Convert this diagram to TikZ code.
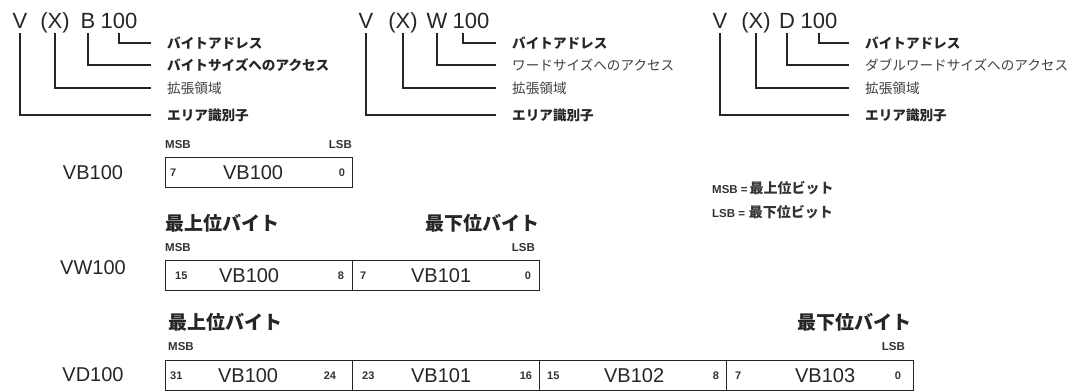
\documentclass[tikz,border=0pt]{standalone}
\usepackage{fontspec}
\setmainfont{Liberation Sans}
\newfontfamily\jp{Noto Sans CJK JP}
\begin{document}
\begin{tikzpicture}[x=1pt,y=-1pt,
  lead/.style={draw=black!85, line width=1.3pt, shorten <=5pt, shorten >=16pt},
  big/.style={font=\fontsize{22}{22}\selectfont, inner sep=0pt, anchor=base, text height=16pt, text depth=0pt, text=black!85},
  lbl/.style={font=\jp\bfseries\fontsize{13.6}{13.6}\selectfont, inner sep=0pt, anchor=west, text=black!85},
  lbll/.style={font=\jp\fontsize{13.6}{13.6}\selectfont, inner sep=0pt, anchor=west, text=black!75},
  rowlbl/.style={font=\fontsize{20}{20}\selectfont, inner sep=0pt, text=black!85},
  cell/.style={draw=black!85, line width=1.2pt, minimum width=187pt, minimum height=30pt, inner sep=0pt, anchor=north west},
  num/.style={font=\bfseries\fontsize{11}{11}\selectfont, inner sep=0pt, text=black!80},
  nm/.style={font=\fontsize{20}{20}\selectfont, inner sep=0pt, text=black!85},
  sb/.style={font=\bfseries\fontsize{11.5}{11.5}\selectfont, inner sep=0pt, text=black!80},
  hd/.style={font=\jp\bfseries\fontsize{19}{19}\selectfont, inner sep=0pt, text=black!85},
]
\fill[white] (0,0) rectangle (1073,391);
\useasboundingbox (0,0) rectangle (1073,391);

% ---- section 1
\node[big] (v1) at (20,28) {V};
\node[big] (x1) at (55,28) {(X)};
\node[big] (s1) at (88,28) {B};
\node[big] (n1) at (119,28) {100};
\node[lbl] (a1) at (167,43) {バイトアドレス};
\node[lbl] (a2) at (167,65) {バイトサイズへのアクセス};
\node[lbll] (a3) at (167,88) {拡張領域};
\node[lbl] (a4) at (167,115) {エリア識別子};
\draw[lead] (v1.south) |- (a4.west);
\draw[lead] (x1.south) |- (a3.west);
\draw[lead] (s1.south) |- (a2.west);
\draw[lead] (n1.south) |- (a1.west);

% ---- section 2
\node[big] (v2) at (366,28) {V};
\node[big] (x2) at (403,28) {(X)};
\node[big] (s2) at (437,28) {W};
\node[big] (n2) at (471,28) {100};
\node[lbl] (b1) at (512,43) {バイトアドレス};
\node[lbll] (b2) at (512,65) {ワードサイズへのアクセス};
\node[lbll] (b3) at (512,88) {拡張領域};
\node[lbl] (b4) at (512,115) {エリア識別子};
\draw[lead] (v2.south) |- (b4.west);
\draw[lead] (x2.south) |- (b3.west);
\draw[lead] (s2.south) |- (b2.west);
\draw[lead] ([xshift=-8pt]n2.south) |- (b1.west);

% ---- section 3
\node[big] (v3) at (720,28) {V};
\node[big] (x3) at (756,28) {(X)};
\node[big] (s3) at (787,28) {D};
\node[big] (n3) at (819,28) {100};
\node[lbl] (c1) at (865,43) {バイトアドレス};
\node[lbll] (c2) at (865,65) {ダブルワードサイズへのアクセス};
\node[lbll] (c3) at (865,88) {拡張領域};
\node[lbl] (c4) at (865,115) {エリア識別子};
\draw[lead] (v3.south) |- (c4.west);
\draw[lead] (x3.south) |- (c3.west);
\draw[lead] (s3.south) |- (c2.west);
\draw[lead] (n3.south) |- (c1.west);

% ---- legend
\node[inner sep=0pt, anchor=west, text=black!80] (lg1) at (712,188) {{\bfseries\fontsize{11.5}{11.5}\selectfont MSB =\,}{\jp\bfseries\fontsize{14}{14}\selectfont 最上位ビット}};
\node[inner sep=0pt, anchor=west, text=black!80] (lg2) at (712,212) {{\bfseries\fontsize{11.5}{11.5}\selectfont LSB =\,\,}{\jp\bfseries\fontsize{14}{14}\selectfont 最下位ビット}};

% ---- VB100 row
\node[rowlbl] (rb) at (93,173) {VB100};
\node[sb, anchor=west] (bm) at (165,145) {MSB};
\node[sb, anchor=east] (bl) at (352,145) {LSB};
\node[cell] (b0) at (165,157) {};
\node[num, anchor=west] (b0l) at ([xshift=5pt]b0.west) {7};
\node[nm] (b0n) at ([xshift=-6pt]b0.center) {VB100};
\node[num, anchor=east] (b0r) at ([xshift=-8pt]b0.east) {0};

% ---- VW100 row
\node[rowlbl] (rw) at (93,268) {VW100};
\node[hd, anchor=west] (wh1) at (165,223) {最上位バイト};
\node[hd, anchor=east] (wh2) at (540,223) {最下位バイト};
\node[sb, anchor=west] (wm) at (165,248) {MSB};
\node[sb, anchor=east] (wl) at (535,248) {LSB};
\node[cell] (w0) at (165,260) {};
\node[cell] (w1) at (352,260) {};
\node[num, anchor=west] (w0l) at ([xshift=10pt]w0.west) {15};
\node[nm] (w0n) at ([xshift=-10pt]w0.center) {VB100};
\node[num, anchor=east] (w0r) at ([xshift=-9pt]w0.east) {8};
\node[num, anchor=west] (w1l) at ([xshift=8pt]w1.west) {7};
\node[nm] (w1n) at ([xshift=-5pt]w1.center) {VB101};
\node[num, anchor=east] (w1r) at ([xshift=-9pt]w1.east) {0};

% ---- VD100 row
\node[rowlbl] (rd) at (93,375) {VD100};
\node[hd, anchor=west] (dh1) at (168,322) {最上位バイト};
\node[hd, anchor=east] (dh2) at (912,322) {最下位バイト};
\node[sb, anchor=west] (dm) at (168,347) {MSB};
\node[sb, anchor=east] (dl) at (905,347) {LSB};
\node[cell] (d0) at (165,360) {};
\node[cell] (d1) at (352,360) {};
\node[cell] (d2) at (539,360) {};
\node[cell] (d3) at (726,360) {};
\node[num, anchor=west] (d0l) at ([xshift=5pt]d0.west) {31};
\node[nm] (d0n) at ([xshift=-11pt]d0.center) {VB100};
\node[num, anchor=east] (d0r) at ([xshift=-17pt]d0.east) {24};
\node[num, anchor=west] (d1l) at ([xshift=10pt]d1.west) {23};
\node[nm] (d1n) at ([xshift=-5pt]d1.center) {VB101};
\node[num, anchor=east] (d1r) at ([xshift=-8pt]d1.east) {16};
\node[num, anchor=west] (d2l) at ([xshift=8pt]d2.west) {15};
\node[nm] (d2n) at ([xshift=1pt]d2.center) {VB102};
\node[num, anchor=east] (d2r) at ([xshift=-8pt]d2.east) {8};
\node[num, anchor=west] (d3l) at ([xshift=9pt]d3.west) {7};
\node[nm] (d3n) at ([xshift=5pt]d3.center) {VB103};
\node[num, anchor=east] (d3r) at ([xshift=-13pt]d3.east) {0};
\end{tikzpicture}
\end{document}
